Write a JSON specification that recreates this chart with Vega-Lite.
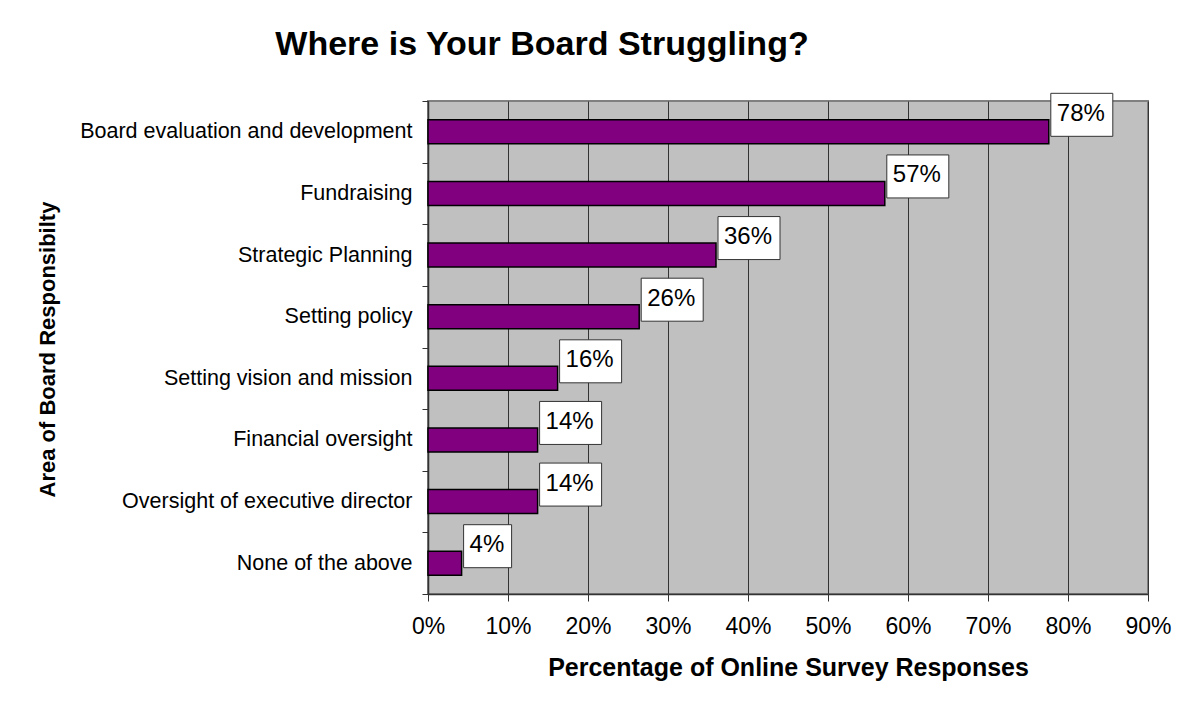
{
  "$schema": "https://vega.github.io/schema/vega-lite/v6.json",
  "width": 720,
  "height": 493,
  "autosize": {"type": "none"},
  "padding": {"left": 428, "top": 101, "right": 39, "bottom": 110},
  "background": "white",
  "title": {
    "text": "Where is Your Board Struggling?",
    "font": "Liberation Sans",
    "fontSize": 34,
    "fontWeight": "bold",
    "color": "black",
    "anchor": "middle",
    "dx": -246,
    "offset": 28
  },
  "config": {
    "font": "Liberation Sans",
    "view": {"fill": "#C0C0C0", "stroke": "#808080", "strokeWidth": 2}
  },
  "data": {
    "values": [
      {"area": "Board evaluation and development", "pct": 0.776, "label": "78%"},
      {"area": "Fundraising", "pct": 0.571, "label": "57%"},
      {"area": "Strategic Planning", "pct": 0.36, "label": "36%"},
      {"area": "Setting policy", "pct": 0.264, "label": "26%"},
      {"area": "Setting vision and mission", "pct": 0.162, "label": "16%"},
      {"area": "Financial oversight", "pct": 0.137, "label": "14%"},
      {"area": "Oversight of executive director", "pct": 0.137, "label": "14%"},
      {"area": "None of the above", "pct": 0.042, "label": "4%"}
    ]
  },
  "encoding": {
    "y": {
      "field": "area",
      "type": "nominal",
      "sort": null,
      "scale": {"paddingInner": 0, "paddingOuter": 0},
      "axis": {
        "tickBand": "extent",
        "ticks": true,
        "tickSize": 6,
        "tickColor": "#333333",
        "domainColor": "#333333",
        "domainWidth": 1.5,
        "labelFontSize": 21.5,
        "labelColor": "black",
        "labelPadding": 10,
        "labelLimit": 400,
        "grid": false,
        "title": "Area of Board Responsibilty",
        "titleFontSize": 22,
        "titleFontWeight": "bold",
        "titleColor": "black",
        "titleX": -374,
        "titleY": 248,
        "titleAngle": -90,
        "titleAlign": "center",
        "titleBaseline": "alphabetic"
      }
    }
  },
  "layer": [
    {
      "mark": {"type": "bar", "color": "#800080", "stroke": "black", "strokeWidth": 1.5, "height": 24},
      "encoding": {
        "x": {
          "field": "pct",
          "type": "quantitative",
          "scale": {"domain": [0, 0.9], "nice": false},
          "axis": {
            "values": [0, 0.1, 0.2, 0.3, 0.4, 0.5, 0.6, 0.7, 0.8, 0.9],
            "format": ".0%",
            "grid": true,
            "gridColor": "#333333",
            "gridWidth": 1,
            "tickSize": 7,
            "tickColor": "#333333",
            "domainColor": "#333333",
            "domainWidth": 1.5,
            "labelFontSize": 23,
            "labelColor": "black",
            "labelBaseline": "alphabetic",
            "labelPadding": 32,
            "labelFlush": false,
            "title": "Percentage of Online Survey Responses",
            "titleFontSize": 25,
            "titleFontWeight": "bold",
            "titleColor": "black",
            "titleX": 360,
            "titleY": 81,
            "titleAlign": "center",
            "titleBaseline": "alphabetic"
          }
        }
      }
    },
    {
      "transform": [{"filter": "datum.pct >= 0.1"}],
      "mark": {"type": "bar", "fill": "white", "stroke": "#333333", "strokeWidth": 1, "height": 43, "yOffset": -17, "xOffset": 2, "x2Offset": 64},
      "encoding": {
        "x": {"field": "pct", "type": "quantitative"},
        "x2": {"field": "pct"}
      }
    },
    {
      "transform": [{"filter": "datum.pct < 0.1"}],
      "mark": {"type": "bar", "fill": "white", "stroke": "#333333", "strokeWidth": 1, "height": 43, "yOffset": -17, "xOffset": 2, "x2Offset": 50},
      "encoding": {
        "x": {"field": "pct", "type": "quantitative"},
        "x2": {"field": "pct"}
      }
    },
    {
      "mark": {"type": "text", "align": "left", "baseline": "alphabetic", "dx": 8, "yOffset": -11, "fontSize": 24, "color": "black"},
      "encoding": {
        "x": {"field": "pct", "type": "quantitative"},
        "text": {"field": "label"}
      }
    }
  ]
}
